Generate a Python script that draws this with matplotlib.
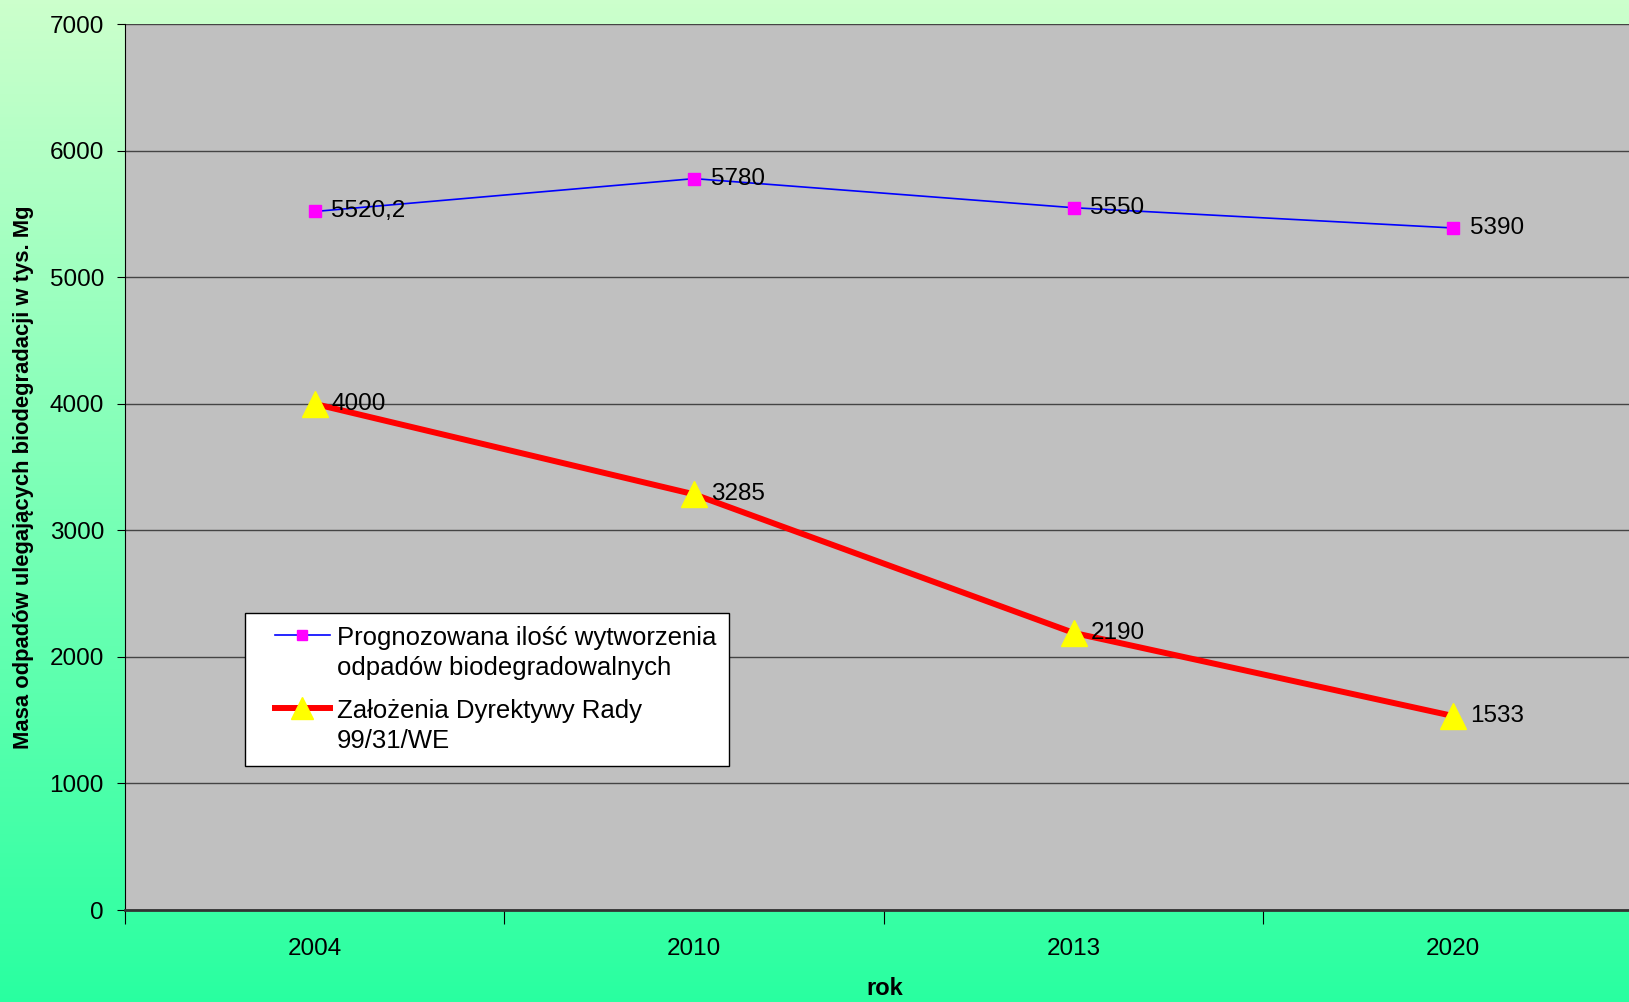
import numpy as np
import matplotlib
matplotlib.use("Agg")
import matplotlib.pyplot as plt
from matplotlib.legend_handler import HandlerLine2D

plt.rcParams["font.family"] = ["Liberation Sans", "DejaVu Sans"]

years = ["2004", "2010", "2013", "2020"]
prognoza = [5520.2, 5780, 5550, 5390]
prognoza_labels = ["5520,2", "5780", "5550", "5390"]
dyrektywa = [4000, 3285, 2190, 1533]
dyrektywa_labels = ["4000", "3285", "2190", "1533"]


class TopLineHandler(HandlerLine2D):
    """Legend handle aligned with the first line of a two-line label."""
    def create_artists(self, legend, orig_handle, xdescent, ydescent,
                       width, height, fontsize, trans):
        shift = 1.45 * fontsize
        return super().create_artists(legend, orig_handle, xdescent,
                                      ydescent - shift, width, height,
                                      fontsize, trans)


fig = plt.figure(figsize=(16.29, 10.02), dpi=100)

# gradient background
bg = fig.add_axes([0, 0, 1, 1], zorder=-10)
top = np.array([0.80, 1.00, 0.80])
bot = np.array([0.16, 1.00, 0.63])
t = np.linspace(0, 1, 256)[:, None]
grad = top * (1 - t) + bot * t
bg.imshow(grad[:, None, :], aspect="auto", extent=[0, 1, 0, 1])
bg.axis("off")

ax = fig.add_axes([0.0766, 0.0918, 0.932, 0.884])
ax.set_facecolor("#C0C0C0")
x = np.arange(len(years))

l1, = ax.plot(x, prognoza, color="#0000FF", lw=1.2, marker="s", ms=8.5,
              mfc="#FF00FF", mec="#FF00FF",
              label="Prognozowana ilość wytworzenia\nodpadów biodegradowalnych", zorder=3)
l2, = ax.plot(x, dyrektywa, color="#FF0000", lw=4.3, marker="^", ms=19,
              mfc="#FFFF00", mec="#FFFF00",
              label="Założenia Dyrektywy Rady\n99/31/WE", zorder=3)

for xi, v, s in zip(x, prognoza, prognoza_labels):
    ax.annotate(s, (xi, v), xytext=(12, 0), textcoords="offset points",
                va="center", ha="left", fontsize=17.5)
for xi, v, s in zip(x, dyrektywa, dyrektywa_labels):
    ax.annotate(s, (xi, v), xytext=(12, 0), textcoords="offset points",
                va="center", ha="left", fontsize=17.5)

ax.set_xlim(-0.5, 3.5)
ax.set_ylim(0, 7000)
ax.set_yticks(np.arange(0, 7001, 1000))
ax.grid(axis="y", color="#444444", lw=1)
ax.set_axisbelow(True)
ax.set_xticks(np.arange(-0.5, 3.6, 1))
ax.set_xticklabels([])
ax.set_xticks(x, minor=True)
ax.set_xticklabels(years, minor=True)
ax.tick_params(axis="x", which="major", length=10, direction="out", color="black")
ax.tick_params(axis="x", which="minor", length=0, pad=20, labelsize=17.5)
ax.tick_params(axis="y", length=6, pad=9, labelsize=17.5)
for side in ["top", "right"]:
    ax.spines[side].set_visible(False)
ax.spines["bottom"].set_linewidth(2)
ax.spines["bottom"].set_color("#333333")
ax.spines["left"].set_color("black")

fig.text(0.543, 0.013, "rok", fontsize=17, fontweight="bold",
         ha="center", va="center")
fig.text(0.0145, 0.524, "Masa odpadów ulegających biodegradacji w tys. Mg",
         fontsize=15.8, fontweight="bold", rotation=90, ha="center", va="center")

hm = TopLineHandler(xpad=0.65)
leg = ax.legend(loc="upper left", bbox_to_anchor=(0.0794, 0.335), fontsize=18.5,
                frameon=True, fancybox=False, framealpha=1, edgecolor="black",
                handlelength=2.8, handletextpad=0.25, labelspacing=0.72,
                borderpad=0.5, borderaxespad=0, markerscale=0.8,
                handler_map={l1: hm, l2: hm})
leg.get_frame().set_linewidth(1)
for txt in leg.get_texts():
    txt.set_linespacing(1.33)

fig.savefig("out.png", dpi=100)
